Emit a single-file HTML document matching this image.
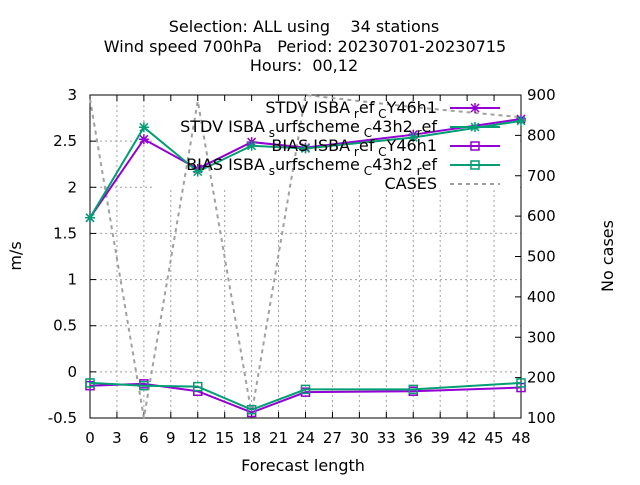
<!DOCTYPE html>
<html><head><meta charset="utf-8"><style>
body{margin:0;background:#fff;}
svg{font-family:"DejaVu Sans","Liberation Sans",sans-serif;}
</style></head><body>
<svg id="c" width="640" height="480" viewBox="0 0 640 480">
<g id="grid"></g>
<rect x="152" y="96" width="368" height="94" fill="#fff"/>
<g id="axes"></g>
<g id="series"></g>
<g id="legend"></g>
<text x="304" y="32" font-size="16" text-anchor="middle" xml:space="preserve">Selection: ALL using    34 stations</text>
<text x="305" y="52" font-size="16" text-anchor="middle" xml:space="preserve">Wind speed 700hPa   Period: 20230701-20230715</text>
<text x="304" y="71" font-size="16" text-anchor="middle" xml:space="preserve">Hours:  00,12</text>
<text x="21" y="256" font-size="16" text-anchor="middle" transform="rotate(-90 21 256)">m/s</text>
<text x="613" y="256" font-size="16" text-anchor="middle" transform="rotate(-90 613 256)">No cases</text>
<text x="303" y="471" font-size="16" text-anchor="middle">Forecast length</text>
</svg>
<script>
const xTicks=[0,3,6,9,12,15,18,21,24,27,30,33,36,39,42,45,48];
const yTicks=[-0.5,0,0.5,1,1.5,2,2.5,3];
const y2Ticks=[100,200,300,400,500,600,700,800,900];
const leadTimes=[0,6,12,18,24,36,48];
const stdvRef=[1.67,2.52,2.2,2.49,2.43,2.57,2.74];
const stdvSurf=[1.67,2.65,2.17,2.45,2.42,2.54,2.72];
const biasRef=[-0.15,-0.13,-0.21,-0.44,-0.22,-0.21,-0.17];
const biasSurf=[-0.12,-0.15,-0.16,-0.41,-0.19,-0.19,-0.12];
const cases=[890,100,885,110,900,870,845];

const L=90,R=521,T=95,B=418;
const xs=v=>L+(v-0)/(48-0)*(R-L);
const ys=v=>B-(v+0.5)/3.5*(B-T);
const y2s=v=>B-(v-100)/800*(B-T);
const NS="http://www.w3.org/2000/svg";
function mk(tag,attrs,parent){const e=document.createElementNS(NS,tag);for(const k in attrs)e.setAttribute(k,attrs[k]);document.getElementById(parent).appendChild(e);return e;}
xTicks.forEach(t=>{const x=xs(t);
 const g=mk('line',{x1:x,x2:x,y1:T,y2:B,stroke:'#a0a0a0','stroke-width':1,'stroke-dasharray':'2,3'},'grid');
 
 const a=mk('line',{x1:x,x2:x,y1:B,y2:B-6,stroke:'#000'},'axes');
 const b=mk('line',{x1:x,x2:x,y1:T,y2:T+6,stroke:'#000'},'axes');
 const l=mk('text',{x:x,y:B+25,'font-size':15,'text-anchor':'middle'},'axes');l.textContent=t;
});
yTicks.forEach(t=>{const y=ys(t);
 const g=mk('line',{x1:L,x2:R,y1:y,y2:y,stroke:'#a0a0a0','stroke-width':1,'stroke-dasharray':'2,3'},'grid');
 
 const a=mk('line',{x1:L,x2:L+6,y1:y,y2:y,stroke:'#000'},'axes');
 const l=mk('text',{x:L-13,y:y+5,'font-size':15,'text-anchor':'end'},'axes');l.textContent=t;
});
y2Ticks.forEach(t=>{const y=y2s(t);
 const a=mk('line',{x1:R,x2:R-6,y1:y,y2:y,stroke:'#000'},'axes');
 const l=mk('text',{x:R+6,y:y+5,'font-size':15,'text-anchor':'start'},'axes');l.textContent=t;
});
const fr=mk('rect',{x:L,y:T,width:R-L,height:B-T,fill:'none',stroke:'#000'},'axes');


function star(x,y,c,p){const d=`M${x-4},${y-4}L${x+4},${y+4}M${x-4},${y+4}L${x+4},${y-4}M${x-5},${y}L${x+5},${y}M${x},${y-5}L${x},${y+5}`;return mk('path',{d:d,stroke:c,'stroke-width':1.5,fill:'none'},p);}
function sq(x,y,c,p){return mk('rect',{x:x-4,y:y-4,width:8,height:8,stroke:c,'stroke-width':1.5,fill:'none'},p);}

const cs=mk('polyline',{points:leadTimes.map((t,i)=>xs(t)+','+y2s(cases[i])).join(' '),fill:'none',stroke:'#a0a0a0','stroke-width':2,'stroke-dasharray':'4,4'},'series');


const defs=[[stdvRef,'#9400d3',star,'stdv-ref'],[stdvSurf,'#009e73',star,'stdv-surf'],[biasRef,'#9400d3',sq,'bias-ref'],[biasSurf,'#009e73',sq,'bias-surf']];
defs.forEach(([d,c,m,n])=>{
 const p=mk('polyline',{points:leadTimes.map((t,i)=>xs(t)+','+ys(d[i])).join(' '),fill:'none',stroke:c,'stroke-width':2},'series');
 
 leadTimes.forEach((t,i)=>{const e=m(xs(t),ys(d[i]),c,'series');});
});

const legY=[108,127,146,165,184];
const legHtml=[
 'STDV ISBA<tspan font-size="12" dy="5"> r</tspan><tspan dy="-5">ef</tspan><tspan font-size="12" dy="5"> C</tspan><tspan dy="-5">Y46h1</tspan>',
 'STDV ISBA<tspan font-size="12" dy="5"> s</tspan><tspan dy="-5">urfscheme</tspan><tspan font-size="12" dy="5"> C</tspan><tspan dy="-5">43h2</tspan><tspan font-size="12" dy="5"> r</tspan><tspan dy="-5">ef</tspan>',
 'BIAS ISBA<tspan font-size="12" dy="5"> r</tspan><tspan dy="-5">ef</tspan><tspan font-size="12" dy="5"> C</tspan><tspan dy="-5">Y46h1</tspan>',
 'BIAS ISBA<tspan font-size="12" dy="5"> s</tspan><tspan dy="-5">urfscheme</tspan><tspan font-size="12" dy="5"> C</tspan><tspan dy="-5">43h2</tspan><tspan font-size="12" dy="5"> r</tspan><tspan dy="-5">ef</tspan>',
 'CASES'];
const legCol=['#9400d3','#009e73','#9400d3','#009e73','#a0a0a0'];
legY.forEach((y,i)=>{
 const t=mk('text',{x:437,y:y+5,'font-size':16,'text-anchor':'end'},'legend');t.innerHTML=legHtml[i];
 
 const l=mk('line',{x1:450,x2:500,y1:y,y2:y,stroke:legCol[i],'stroke-width':2},'legend');
 if(i==4){l.setAttribute('stroke-dasharray','4,4');}
 
 if(i<2){const e=star(475,y,legCol[i],'legend');}
 else if(i<4){const e=sq(475,y,legCol[i],'legend');}
});
</script>
</body></html>
